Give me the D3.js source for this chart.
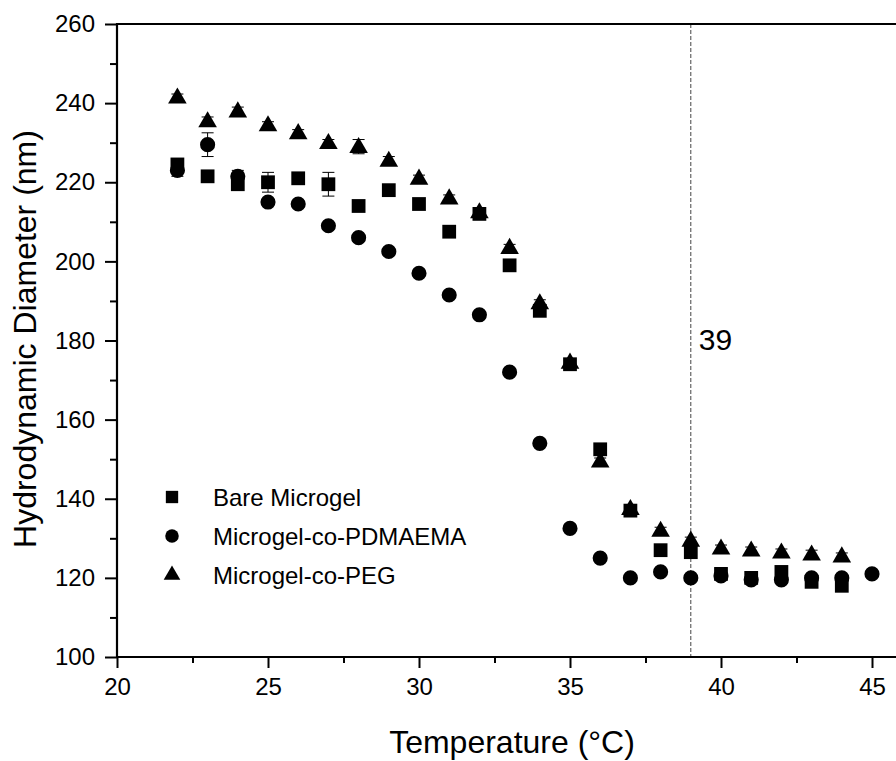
<!DOCTYPE html>
<html>
<head>
<meta charset="utf-8">
<script src="https://cdn.jsdelivr.net/npm/d3@7"></script>
<style>
  body { margin: 0; background: #fff; }
  text { font-family: "Liberation Sans", Arial, sans-serif; fill: #000; }
</style>
</head>
<body>
<div id="chart"></div>
<script>
const temps = [22,23,24,25,26,27,28,29,30,31,32,33,34,35,36,37,38,39,40,41,42,43,44,45];

const bareTemps = temps.slice(0, 23);
const bareValues = [224.5,221.5,219.5,220,221,219.5,214,218,214.5,207.5,212,199,187.5,174,152.5,137,127,126.5,121,120,121.5,119,118];
const bareErr    = [1.2,0.8,1,2.5,1,3,0.8,0.8,0.8,0.8,0.8,0.8,0.8,0.8,0.8,0.8,0.8,0.8,0.8,0.8,0.8,0.8,0.8];

const pdmTemps = temps;
const pdmValues = [223,229.5,221.5,215,214.5,209,206,202.5,197,191.5,186.5,172,154,132.5,125,120,121.5,120,120.5,119.5,119.5,120,120,121];
const pdmErr    = [1.5,3,1.5,0.8,0.8,0.8,0.8,0.8,0.8,0.8,0.8,0.8,0.8,0.8,0.8,0.8,0.8,0.8,0.8,0.8,0.8,0.8,0.8,0.8];

const pegTemps = temps.slice(0, 23);
const pegValues = [241.5,235.5,238,234.5,232.5,230,229,225.5,221,216,212.5,203.5,189.5,174.5,149.5,137.5,132,129.5,127.5,127,126.5,126,125.5];
const pegErr    = [0.8,1,1,0.8,0.8,0.8,1.8,1,0.8,0.8,0.8,0.8,0.8,0.8,0.8,0.8,0.8,0.8,0.8,0.8,0.8,1,0.8];

const seriesNames = ['Bare Microgel', 'Microgel-co-PDMAEMA', 'Microgel-co-PEG'];
const xTicks = [20,25,30,35,40,45];
const yTicks = [100,120,140,160,180,200,220,240,260];
const markerLine = 39;

const W = 896, H = 761;
const plotLeft = 117, plotTop = 24, plotBottom = 657;
const xScale = d3.scaleLinear().domain([20, 45]).range([plotLeft, 872]);
const yScale = d3.scaleLinear().domain([100, 260]).range([plotBottom, plotTop]);

const svg = d3.select('#chart').append('svg')
    .attr('width', W).attr('height', H);

// dashed reference line
svg.append('line')
    .attr('x1', xScale(markerLine)).attr('x2', xScale(markerLine))
    .attr('y1', plotTop).attr('y2', plotBottom)
    .attr('stroke', '#444').attr('stroke-width', 1)
    .attr('stroke-dasharray', '4,2');

svg.append('text')
    .attr('x', xScale(markerLine) + 8).attr('y', 350)
    .attr('font-size', 30)
    .text(markerLine);

// axes
const xAxis = svg.append('g')
    .attr('transform', `translate(0,${plotBottom})`)
    .call(d3.axisBottom(xScale).tickValues(xTicks).tickSize(11).tickPadding(10).tickFormat(d3.format('d')));
const xMinor = svg.append('g')
    .attr('transform', `translate(0,${plotBottom})`)
    .call(d3.axisBottom(xScale).tickValues(d3.range(22.5, 46, 5)).tickSize(6).tickFormat(''));
const yAxis = svg.append('g')
    .attr('transform', `translate(${plotLeft},0)`)
    .call(d3.axisLeft(yScale).tickValues(yTicks).tickSize(12).tickPadding(10));
const yMinor = svg.append('g')
    .attr('transform', `translate(${plotLeft},0)`)
    .call(d3.axisLeft(yScale).tickValues(d3.range(110, 260, 20)).tickSize(7).tickFormat(''));

[xAxis, xMinor, yAxis, yMinor].forEach(g => {
    g.select('.domain').remove();
    g.selectAll('line').attr('stroke', '#000').attr('stroke-width', 2);
    g.selectAll('text').attr('font-size', 24).style('font-family', '"Liberation Sans", Arial, sans-serif');
});

// frame lines: left, bottom, top
svg.append('line').attr('x1', plotLeft).attr('x2', plotLeft).attr('y1', plotTop - 1).attr('y2', plotBottom + 1)
    .attr('stroke', '#000').attr('stroke-width', 2.2);
svg.append('line').attr('x1', plotLeft - 1).attr('x2', W).attr('y1', plotBottom).attr('y2', plotBottom)
    .attr('stroke', '#000').attr('stroke-width', 2.2);
svg.append('line').attr('x1', plotLeft - 1).attr('x2', W).attr('y1', plotTop).attr('y2', plotTop)
    .attr('stroke', '#000').attr('stroke-width', 2.2);

// axis titles
svg.append('text')
    .attr('transform', `translate(36,339) rotate(-90)`)
    .attr('text-anchor', 'middle')
    .attr('font-size', 32)
    .text('Hydrodynamic Diameter (nm)');
svg.append('text')
    .attr('x', 512).attr('y', 753)
    .attr('text-anchor', 'middle')
    .attr('font-size', 32)
    .text('Temperature (°C)');

const series = [
    { name: seriesNames[0], t: bareTemps, v: bareValues, e: bareErr, sym: d3.symbolSquare, size: 190 },
    { name: seriesNames[1], t: pdmTemps, v: pdmValues, e: pdmErr, sym: d3.symbolCircle, size: 180 },
    { name: seriesNames[2], t: pegTemps, v: pegValues, e: pegErr, sym: d3.symbolTriangle, size: 150 }
];

series.forEach(s => {
    const pts = s.t.map((t, i) => ({ t: t, v: s.v[i], e: s.e[i] }));
    const g = svg.append('g');
    const eb = g.selectAll('.err').data(pts).enter().append('g');
    eb.append('line')
        .attr('x1', d => xScale(d.t)).attr('x2', d => xScale(d.t))
        .attr('y1', d => yScale(d.v - d.e)).attr('y2', d => yScale(d.v + d.e))
        .attr('stroke', '#000').attr('stroke-width', 1);
    [1, -1].forEach(sg => {
        eb.append('line')
            .attr('x1', d => xScale(d.t) - 6).attr('x2', d => xScale(d.t) + 6)
            .attr('y1', d => yScale(d.v + sg * d.e)).attr('y2', d => yScale(d.v + sg * d.e))
            .attr('stroke', '#000').attr('stroke-width', 1);
    });
    g.selectAll('.pt').data(pts).enter().append('path')
        .attr('d', d3.symbol().type(s.sym).size(s.size))
        .attr('transform', d => `translate(${xScale(d.t)},${yScale(d.v) + (s.sym === d3.symbolTriangle ? 1 : 0)})`)
        .attr('fill', '#000');
});

// legend
const legend = svg.append('g');
series.forEach((s, i) => {
    const y = 497 + i * 39;
    legend.append('path')
        .attr('d', d3.symbol().type(s.sym).size(s.size * 0.8))
        .attr('transform', `translate(172,${y})`)
        .attr('fill', '#000');
    legend.append('text')
        .attr('x', 213).attr('y', y + 9)
        .attr('font-size', 24)
        .text(s.name);
});
</script>
</body>
</html>
